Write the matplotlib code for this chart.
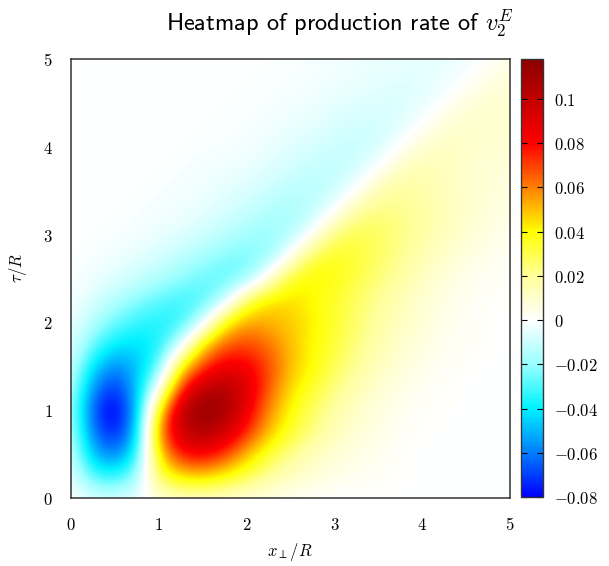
import numpy as np
import matplotlib
matplotlib.use("Agg")
import matplotlib.pyplot as plt
from matplotlib.colors import LinearSegmentedColormap

plt.rcParams['mathtext.fontset'] = 'cm'

# grid coordinates (x_perp/R and tau/R), step 0.25
x_vals = [0, .25, .5, .75, 1, 1.25, 1.5, 1.75, 2, 2.25, 2.5, 2.75, 3, 3.25, 3.5, 3.75, 4, 4.25, 4.5, 4.75, 5]
y_vals = [0, .25, .5, .75, 1, 1.25, 1.5, 1.75, 2, 2.25, 2.5, 2.75, 3, 3.25, 3.5, 3.75, 4, 4.25, 4.5, 4.75, 5]

# production rate values, one row per tau/R
row_y000 = [0, -0.006, -0.008, -0.004, 0.006, 0.01, 0.011, 0.009, 0.006, 0.004, 0.002, 0.001, 0, 0, 0, 0, 0, 0, 0, 0, 0]
row_y025 = [-0.003, -0.03, -0.035, -0.02, 0.03, 0.045, 0.048, 0.04, 0.03, 0.02, 0.012, 0.008, 0.005, 0.003, 0.002, 0.001, 0, 0, 0, 0, 0]
row_y050 = [-0.008, -0.05, -0.062, -0.037, 0.045, 0.078, 0.083, 0.072, 0.05, 0.033, 0.021, 0.013, 0.008, 0.005, 0.003, 0.001, 0, 0, 0, 0, 0]
row_y075 = [-0.012, -0.062, -0.078, -0.05, 0.06, 0.097, 0.107, 0.096, 0.075, 0.05, 0.034, 0.023, 0.014, 0.008, 0.005, 0.002, 0.001, 0, 0, 0, 0]
row_y100 = [-0.014, -0.068, -0.085, -0.052, 0.04, 0.102, 0.118, 0.11, 0.087, 0.058, 0.04, 0.027, 0.017, 0.011, 0.006, 0.003, 0.001, 0.001, 0, 0, 0]
row_y125 = [-0.012, -0.058, -0.074, -0.05, 0.0, 0.072, 0.102, 0.106, 0.093, 0.066, 0.045, 0.034, 0.023, 0.015, 0.009, 0.005, 0.002, 0.001, 0, 0, 0]
row_y150 = [-0.008, -0.042, -0.06, -0.048, -0.03, 0.04, 0.07, 0.086, 0.083, 0.07, 0.05, 0.04, 0.029, 0.02, 0.013, 0.008, 0.004, 0.002, 0.001, 0, 0]
row_y175 = [-0.005, -0.026, -0.04, -0.043, -0.038, -0.01, 0.045, 0.065, 0.07, 0.062, 0.05, 0.04, 0.032, 0.023, 0.016, 0.01, 0.006, 0.003, 0.002, 0.001, 0]
row_y200 = [-0.003, -0.014, -0.026, -0.033, -0.036, -0.034, -0.01, 0.04, 0.055, 0.052, 0.048, 0.042, 0.034, 0.026, 0.018, 0.012, 0.008, 0.004, 0.002, 0.001, 0]
row_y225 = [-0.001, -0.007, -0.014, -0.022, -0.028, -0.032, -0.03, -0.014, 0.03, 0.045, 0.045, 0.04, 0.034, 0.027, 0.02, 0.014, 0.009, 0.005, 0.003, 0.001, 0]
row_y250 = [0, -0.003, -0.006, -0.01, -0.015, -0.021, -0.026, -0.028, -0.022, 0.006, 0.036, 0.041, 0.038, 0.031, 0.024, 0.018, 0.012, 0.007, 0.004, 0.002, 0.001]
row_y275 = [0, -0.001, -0.003, -0.005, -0.008, -0.012, -0.017, -0.022, -0.025, -0.02, 0.002, 0.031, 0.036, 0.033, 0.027, 0.021, 0.015, 0.01, 0.006, 0.004, 0.002]
row_y300 = [0, 0, -0.001, -0.002, -0.004, -0.006, -0.009, -0.013, -0.017, -0.02, -0.015, 0.0, 0.026, 0.03, 0.028, 0.023, 0.018, 0.013, 0.009, 0.006, 0.003]
row_y325 = [0, 0, 0, -0.001, -0.002, -0.003, -0.005, -0.008, -0.011, -0.015, -0.017, -0.012, 0.0, 0.02, 0.024, 0.022, 0.018, 0.014, 0.01, 0.007, 0.005]
row_y350 = [0, 0, 0, 0, -0.001, -0.002, -0.003, -0.005, -0.007, -0.01, -0.013, -0.014, -0.01, 0.0, 0.016, 0.019, 0.017, 0.013, 0.01, 0.008, 0.006]
row_y375 = [0, 0, 0, 0, 0, -0.001, -0.002, -0.003, -0.004, -0.006, -0.009, -0.011, -0.012, -0.009, 0.0, 0.013, 0.015, 0.013, 0.01, 0.008, 0.007]
row_y400 = [0, 0, 0, 0, 0, 0, -0.001, -0.001, -0.002, -0.004, -0.006, -0.008, -0.01, -0.011, -0.008, 0.0, 0.01, 0.012, 0.011, 0.009, 0.008]
row_y425 = [0, 0, 0, 0, 0, 0, 0, -0.001, -0.001, -0.002, -0.004, -0.005, -0.007, -0.009, -0.009, -0.006, 0.0, 0.009, 0.01, 0.01, 0.009]
row_y450 = [0, 0, 0, 0, 0, 0, 0, 0, -0.001, -0.001, -0.002, -0.003, -0.005, -0.006, -0.007, -0.007, -0.005, 0.0, 0.007, 0.009, 0.009]
row_y475 = [0, 0, 0, 0, 0, 0, 0, 0, 0, -0.001, -0.001, -0.002, -0.003, -0.004, -0.005, -0.006, -0.006, -0.004, 0.0, 0.006, 0.008]
row_y500 = [0, 0, 0, 0, 0, 0, 0, 0, 0, 0, -0.001, -0.001, -0.002, -0.003, -0.004, -0.004, -0.005, -0.004, -0.003, 0.0, 0.005]

rows = [row_y000, row_y025, row_y050, row_y075, row_y100, row_y125, row_y150,
        row_y175, row_y200, row_y225, row_y250, row_y275, row_y300, row_y325,
        row_y350, row_y375, row_y400, row_y425, row_y450, row_y475, row_y500]

cbar_ticks = [-0.08, -0.06, -0.04, -0.02, 0, 0.02, 0.04, 0.06, 0.08, 0.1]
cbar_labels = ['$-0.08$', '$-0.06$', '$-0.04$', '$-0.02$', '$0$', '$0.02$', '$0.04$', '$0.06$', '$0.08$', '$0.1$']
axis_ticks = [0, 1, 2, 3, 4, 5]
axis_labels = ['$0$', '$1$', '$2$', '$3$', '$4$', '$5$']

vmin, vmax = -0.08, 0.118

# colour map anchored at data values
cmap_levels = [-0.08, -0.06, -0.04, -0.02, 0.0, 0.02, 0.04, 0.06, 0.08, 0.118]
cmap_colors = [(0.0, 0.0, 1.0), (0.0, 0.5, 1.0), (0.0, 0.95, 1.0), (0.6, 1.0, 1.0),
               (1.0, 1.0, 1.0), (1.0, 1.0, 0.6), (1.0, 1.0, 0.0), (1.0, 0.5, 0.0),
               (1.0, 0.0, 0.0), (0.55, 0.0, 0.0)]
nodes = [(v - vmin) / (vmax - vmin) for v in cmap_levels]
cmap = LinearSegmentedColormap.from_list('v2E', list(zip(nodes, cmap_colors)))

Z = np.array(rows)
dx = x_vals[1] - x_vals[0]
dy = y_vals[1] - y_vals[0]

fig = plt.figure(figsize=(6.09, 5.66), dpi=100)
W, H = 609, 566
ax = fig.add_axes([71 / W, 1 - 498 / H, 439 / W, 439 / H])
im = ax.imshow(Z, origin='lower', cmap=cmap, vmin=vmin, vmax=vmax,
               extent=(x_vals[0] - dx / 2, x_vals[-1] + dx / 2, y_vals[0] - dy / 2, y_vals[-1] + dy / 2),
               interpolation='bicubic', aspect='auto')
ax.set_xlim(0, 5)
ax.set_ylim(0, 5)
ax.set_xticks(axis_ticks)
ax.set_xticklabels(axis_labels)
ax.set_yticks(axis_ticks)
ax.set_yticklabels(axis_labels)
ax.tick_params(length=0, labelsize=12, pad=13)
for s in ax.spines.values():
    s.set_color('#333333')
    s.set_linewidth(1.1)

fig.text(290 / W, 1 - 552 / H, r'$x_\perp/R$', ha='center', va='center', fontsize=12)
fig.text(18 / W, 1 - 268 / H, r'$\tau/R$', ha='center', va='center', fontsize=12, rotation=90)
fig.text(340 / W, 1 - 23 / H, r'Heatmap of production rate of $v_2^E$', ha='center', va='center',
         fontsize=17.5, family='cmss10')

cax = fig.add_axes([521 / W, 1 - 497 / H, 22 / W, 438 / H])
cb = fig.colorbar(im, cax=cax)
cb.set_ticks(cbar_ticks)
cb.set_ticklabels(cbar_labels)
cax.tick_params(direction='in', left=True, right=True, length=4, width=0.8, labelsize=12, pad=8)
cb.outline.set_edgecolor('#333333')
cb.outline.set_linewidth(1.0)

fig.savefig('out.png', dpi=100)
